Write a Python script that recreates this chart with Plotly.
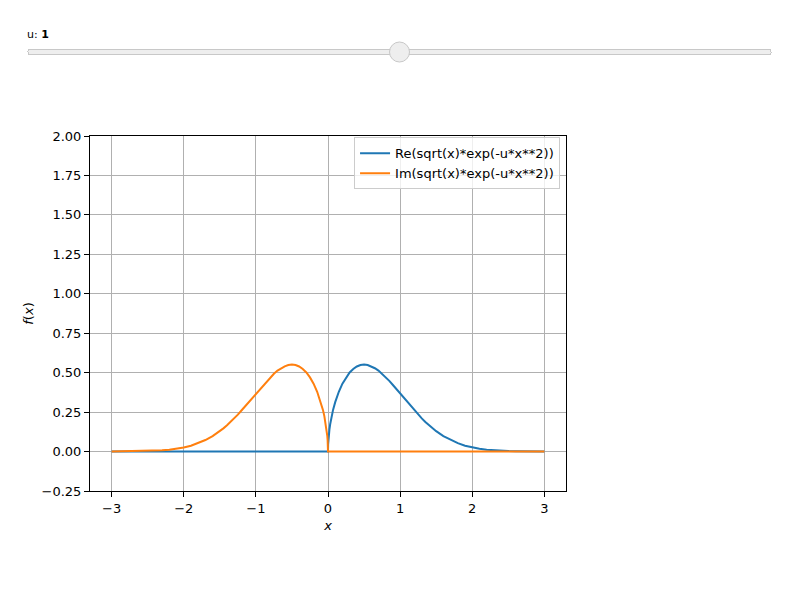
import plotly.graph_objects as go

# ---- data ----
# positive-x branch: Re(sqrt(x)*exp(-u*x**2)), u = 1
x_pos = [0.002, 0.005, 0.01, 0.02, 0.03, 0.05, 0.07, 0.1, 0.15, 0.2, 0.25, 0.3, 0.35,
         0.4, 0.45, 0.5, 0.55, 0.6, 0.65, 0.7, 0.75, 0.8, 0.85, 0.9, 0.95, 1.0, 1.05,
         1.1, 1.15, 1.2, 1.25, 1.3, 1.35, 1.4, 1.45, 1.5, 1.6, 1.7, 1.8, 1.9, 2.0,
         2.1, 2.2, 2.3, 2.4, 2.5, 2.6, 2.8, 3.0]
re_pos = [0.045, 0.071, 0.100, 0.141, 0.173, 0.223, 0.264, 0.313, 0.379, 0.430, 0.470,
          0.501, 0.523, 0.539, 0.548, 0.551, 0.548, 0.540, 0.528, 0.513, 0.493, 0.472,
          0.448, 0.422, 0.395, 0.368, 0.340, 0.313, 0.286, 0.260, 0.234, 0.210, 0.188,
          0.167, 0.147, 0.129, 0.098, 0.073, 0.053, 0.037, 0.026, 0.018, 0.012, 0.008,
          0.005, 0.003, 0.002, 0.001, 0.000]

# negative-x branch: Im(sqrt(x)*exp(-u*x**2)), u = 1
x_neg = [-3.0, -2.8, -2.6, -2.5, -2.4, -2.3, -2.2, -2.1, -2.0, -1.9, -1.8, -1.7, -1.6,
         -1.5, -1.45, -1.4, -1.35, -1.3, -1.25, -1.2, -1.15, -1.1, -1.05, -1.0, -0.95,
         -0.9, -0.85, -0.8, -0.75, -0.7, -0.65, -0.6, -0.55, -0.5, -0.45, -0.4, -0.35,
         -0.3, -0.25, -0.2, -0.15, -0.1, -0.07, -0.05, -0.03, -0.02, -0.01, -0.005, -0.002]
im_neg = [0.000, 0.001, 0.002, 0.003, 0.005, 0.008, 0.012, 0.018, 0.026, 0.037, 0.053,
          0.073, 0.098, 0.129, 0.147, 0.167, 0.188, 0.210, 0.234, 0.260, 0.286, 0.313,
          0.340, 0.368, 0.395, 0.422, 0.448, 0.472, 0.493, 0.513, 0.528, 0.540, 0.548,
          0.551, 0.548, 0.539, 0.523, 0.501, 0.470, 0.430, 0.379, 0.313, 0.264, 0.223,
          0.173, 0.141, 0.100, 0.071, 0.045]

# flat (zero) parts of each series
re_flat_x = [-3.0, 0.0]
re_flat_y = [0.0, 0.0]
im_flat_x = [0.0, 3.0]
im_flat_y = [0.0, 0.0]

series_names = ["Re(sqrt(x)*exp(-u*x**2))", "Im(sqrt(x)*exp(-u*x**2))"]
series_colors = ["#1f77b4", "#ff7f0e"]

u_labels = ["0", "0.1", "0.2", "0.3", "0.4", "0.5", "0.6", "0.7", "0.8", "0.9", "1",
            "1.1", "1.2", "1.3", "1.4", "1.5", "1.6", "1.7", "1.8", "1.9", "2"]
u_active = 10

x_ticks = [-3, -2, -1, 0, 1, 2, 3]
y_ticks = [-0.25, 0.0, 0.25, 0.5, 0.75, 1.0, 1.25, 1.5, 1.75, 2.0]
y_tick_text = ["−0.25", "0.00", "0.25", "0.50", "0.75", "1.00", "1.25", "1.50", "1.75", "2.00"]

FONT = "DejaVu Sans"

re_x = re_flat_x + x_pos
re_y = re_flat_y + re_pos
im_x = x_neg + im_flat_x
im_y = im_neg + im_flat_y

fig = go.Figure()
for name, xs, ys, col in zip(series_names, [re_x, im_x], [re_y, im_y], series_colors):
    fig.add_trace(go.Scatter(x=xs, y=ys, mode="lines", name=name,
                             line=dict(color=col, width=2)))

axis_common = dict(showline=True, mirror=True, linecolor="black", linewidth=1,
                   ticks="outside", ticklen=5, tickcolor="black", tickwidth=1,
                   showgrid=True, gridcolor="#b0b0b0", gridwidth=1, zeroline=False,
                   tickfont=dict(family=FONT, size=13, color="black"))

fig.update_xaxes(range=[-3.3, 3.3], tickvals=x_ticks,
                 title=dict(text="<i>x</i>", font=dict(family=FONT, size=13, color="black"),
                            standoff=6),
                 **axis_common)
fig.update_yaxes(range=[-0.25, 2.0], tickvals=y_ticks, ticktext=y_tick_text,
                 title=dict(text="<i>f</i>(<i>x</i>)", font=dict(family=FONT, size=13, color="black"),
                            standoff=5),
                 **axis_common)

steps = [dict(method="skip", label=("<b>%s</b>" % lab), value=lab, args=[None])
         for lab in u_labels]

fig.update_layout(
    width=800, height=600,
    margin=dict(l=90, r=234, t=136, b=109, autoexpand=False),
    paper_bgcolor="white", plot_bgcolor="white",
    font=dict(family=FONT, size=13, color="black"),
    showlegend=True,
    legend=dict(x=0.9875, y=0.996, xanchor="right", yanchor="top",
                bgcolor="rgba(255,255,255,0.8)", bordercolor="#cccccc", borderwidth=1,
                font=dict(family=FONT, size=13, color="black")),
    sliders=[dict(
        active=u_active, steps=steps,
        x=-0.14706, len=1.59454, xanchor="left",
        y=1.3155, yanchor="top",
        pad=dict(t=0, b=0, l=0, r=0),
        currentvalue=dict(prefix="\u00a0\u00a0u: ", visible=True, xanchor="left", offset=5,
                          font=dict(family=FONT, size=11, color="black")),
        bgcolor="#eeeeee", activebgcolor="#e0e0e0",
        bordercolor="#c8c8c8", borderwidth=1,
        tickcolor="rgba(0,0,0,0)", ticklen=0, minorticklen=0,
        font=dict(color="rgba(0,0,0,0)", size=11),
    )],
)

fig.write_html("out.html")
